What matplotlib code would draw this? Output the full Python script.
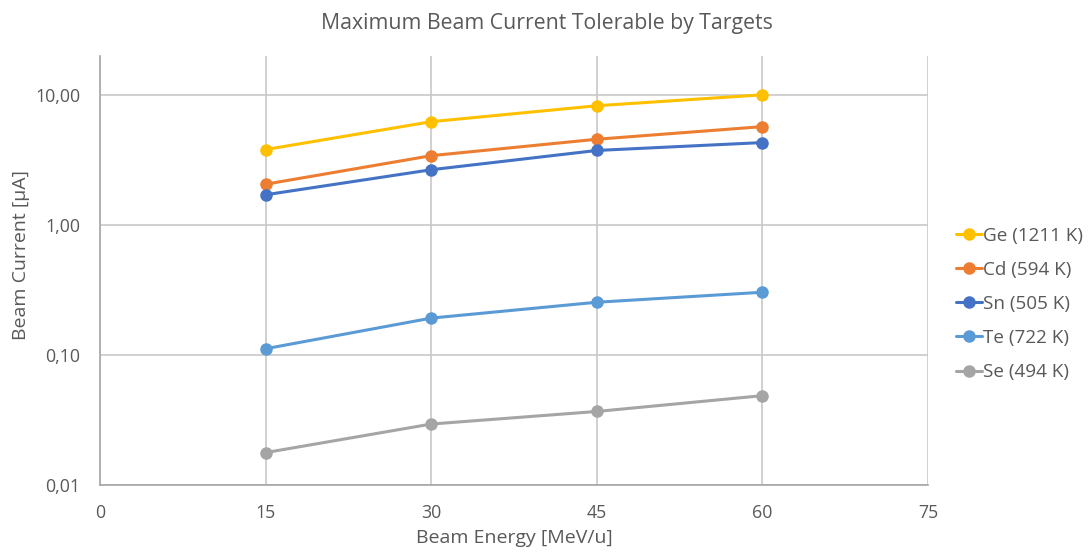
import matplotlib.pyplot as plt
from matplotlib.ticker import FixedLocator, FuncFormatter, NullLocator

plt.rcParams['font.family'] = ['Open Sans', 'DejaVu Sans']

# data
energy = [15, 30, 45, 60]
ge = [3.79, 6.21, 8.24, 10.0]
cd = [2.05, 3.40, 4.55, 5.69]
sn = [1.70, 2.65, 3.73, 4.29]
te = [0.111, 0.191, 0.253, 0.302]
se = [0.0176, 0.0292, 0.0365, 0.0483]

labels = ['Ge (1211 K)', 'Cd (594 K)', 'Sn (505 K)', 'Te (722 K)', 'Se (494 K)']
colors = ['#FFC000', '#ED7D31', '#4472C4', '#5B9BD5', '#A5A5A5']
series = [ge, cd, sn, te, se]

txt = '#595959'

fig = plt.figure(figsize=(10.91, 5.52), dpi=100)
ax = fig.add_axes([100/1091, 1 - 484.5/552, 828/1091, (484.5-56)/552])

for vals, lab, c in zip(series, labels, colors):
    ax.plot(energy, vals, color=c, lw=2.2, marker='o', ms=8, label=lab,
            solid_capstyle='round')

ax.set_yscale('log')
ax.set_ylim(0.01, 19.9)
ax.set_xlim(0, 75)
ax.set_xticks([0, 15, 30, 45, 60, 75])
ax.yaxis.set_major_locator(FixedLocator([0.01, 0.1, 1, 10]))
ax.yaxis.set_minor_locator(NullLocator())
ax.yaxis.set_major_formatter(FuncFormatter(lambda v, p: f'{v:.2f}'.replace('.', ',')))

ax.grid(True, color='#C8C8C8', lw=1.2)
ax.set_axisbelow(True)
for s in ['top', 'right']:
    ax.spines[s].set_visible(False)
for s in ['left', 'bottom']:
    ax.spines[s].set_color('#A6A6A6')
    ax.spines[s].set_linewidth(1.2)
ax.tick_params(axis='both', colors=txt, labelsize=12.8, length=0)
ax.tick_params(axis='x', pad=14)
ax.tick_params(axis='y', pad=14)

ax.set_xlabel('Beam Energy [MeV/u]', color=txt, fontsize=14, labelpad=5)
ax.set_ylabel('Beam Current [µA]', color=txt, fontsize=14)
ax.yaxis.set_label_coords(-0.085, 0.536)
fig.suptitle('Maximum Beam Current Tolerable by Targets', color=txt,
             fontsize=15.3, x=547/1091, y=1 - 13/552, va='top')

fig.legend(loc='center left', bbox_to_anchor=(956/1091, 1 - 304/552),
           frameon=False, fontsize=13.6, labelcolor=txt, handlelength=1.35,
           handletextpad=0.1, labelspacing=0.85, borderaxespad=0, borderpad=0)

fig.savefig('out.png', dpi=100)
